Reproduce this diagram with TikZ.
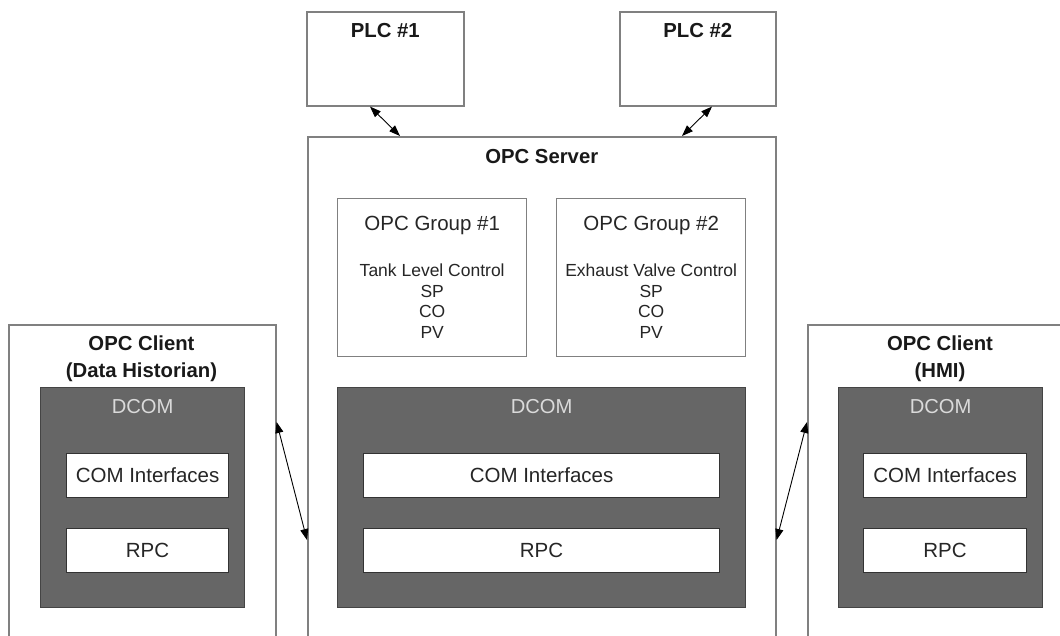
\documentclass[tikz,border=0pt]{standalone}
\usepackage{fontspec}
\setmainfont{Liberation Sans}
\usetikzlibrary{arrows.meta,calc}
\definecolor{framegray}{HTML}{808080}
\definecolor{dcomfill}{HTML}{666666}
\definecolor{dcomedge}{HTML}{444444}
\definecolor{dcomtext}{HTML}{DADADA}
\definecolor{inneredge}{HTML}{333333}
\begin{document}
\begin{tikzpicture}[x=1pt,y=-1pt,
  frame/.style={draw=framegray, line width=1.6pt, fill=white, inner sep=0pt, anchor=north west},
  dcom/.style={draw=dcomedge, line width=1.3pt, fill=dcomfill, inner sep=0pt, anchor=north west},
  layer/.style={draw=inneredge, line width=1.1pt, fill=white, inner sep=0pt, anchor=north west,
    minimum height=44pt, font=\fontsize{20.5}{24}\selectfont, text=black!85},
  title/.style={anchor=base, inner sep=0pt, font=\fontsize{20.3}{24}\selectfont\bfseries, text=black!90},
  grouptitle/.style={anchor=base, inner sep=0pt, font=\fontsize{20.5}{24}\selectfont, text=black!85},
  item/.style={anchor=base, inner sep=0pt, font=\fontsize{17.5}{20}\selectfont, text=black!85},
  dcomlabel/.style={anchor=base, inner sep=0pt, font=\fontsize{20.2}{24}\selectfont, text=dcomtext},
  conn/.style={{Triangle[length=11pt,width=8pt]}-{Triangle[length=11pt,width=8pt]}, line width=0.9pt, black}
]
\useasboundingbox (0,0) rectangle (1060,635);
\clip (0,0) rectangle (1060,635);

% PLCs
\node[frame, minimum width=157pt, minimum height=94pt] (plc1) at (306,11) {};
\node[frame, minimum width=156pt, minimum height=94pt] (plc2) at (619,11) {};
\node[title] (plc1t) at ($(plc1.north)+(0,26)$) {PLC \#1};
\node[title] (plc2t) at ($(plc2.north)+(0,26)$) {PLC \#2};

% server and clients (open towards the page edges)
\node[frame, minimum width=468pt, minimum height=520pt] (server) at (307,136) {};
\node[frame, minimum width=267pt, minimum height=330pt] (cl) at (8,324) {};
\node[frame, minimum width=300pt, minimum height=330pt] (cr) at (807,324) {};
\node[title] (servert) at ($(server.north)+(0,27)$) {OPC Server};
\node[title] (clt1) at (141.5,350) {OPC Client};
\node[title] (clt2) at (141.5,377) {(Data Historian)};
\node[title] (crt1) at (940,350) {OPC Client};
\node[title] (crt2) at (940,377) {(HMI)};

% OPC groups
\node[frame, line width=1.4pt, minimum width=189pt, minimum height=158pt] (g1) at (337,198) {};
\node[frame, line width=1.4pt, minimum width=189pt, minimum height=158pt] (g2) at (556,198) {};
\node[grouptitle] (g1t) at ($(g1.north)+(0,32)$) {OPC Group \#1};
\node[grouptitle] (g2t) at ($(g2.north)+(0,32)$) {OPC Group \#2};
\foreach \t [count=\i] in {Tank Level Control,SP,CO,PV}
  \node[item] (g1l\i) at ($(g1.north)+(0,58+20.5*\i)$) {\t};
\foreach \t [count=\i] in {Exhaust Valve Control,SP,CO,PV}
  \node[item] (g2l\i) at ($(g2.north)+(0,58+20.5*\i)$) {\t};

% DCOM stacks
\node[dcom, minimum width=204pt, minimum height=220pt] (dl) at (40,387) {};
\node[dcom, minimum width=408pt, minimum height=220pt] (ds) at (337,387) {};
\node[dcom, minimum width=204pt, minimum height=220pt] (dr) at (838,387) {};
\node[dcomlabel] (dlt) at ($(dl.north)+(0,26)$) {DCOM};
\node[dcomlabel] (dst) at ($(ds.north)+(0,26)$) {DCOM};
\node[dcomlabel] (drt) at ($(dr.north)+(0,26)$) {DCOM};

\node[layer, minimum width=162pt] (coml) at (66,453) {COM Interfaces};
\node[layer, minimum width=162pt] (rpcl) at (66,528) {RPC};
\node[layer, minimum width=356pt] (coms) at (363,453) {COM Interfaces};
\node[layer, minimum width=356pt] (rpcs) at (363,528) {RPC};
\node[layer, minimum width=163pt] (comr) at (863,453) {COM Interfaces};
\node[layer, minimum width=163pt] (rpcr) at (863,528) {RPC};

% links
\draw[conn] ($(plc1.south west)+(64,0)$) -- ($(server.north west)+(93,0)$);
\draw[conn] ($(plc2.south west)+(93,0)$) -- ($(server.north west)+(375,0)$);
\draw[conn] ($(cl.north east)+(0,98)$) -- ($(server.north west)+(0,404)$);
\draw[conn] ($(server.north east)+(0,404)$) -- ($(cr.north west)+(0,98)$);
\end{tikzpicture}
\end{document}
